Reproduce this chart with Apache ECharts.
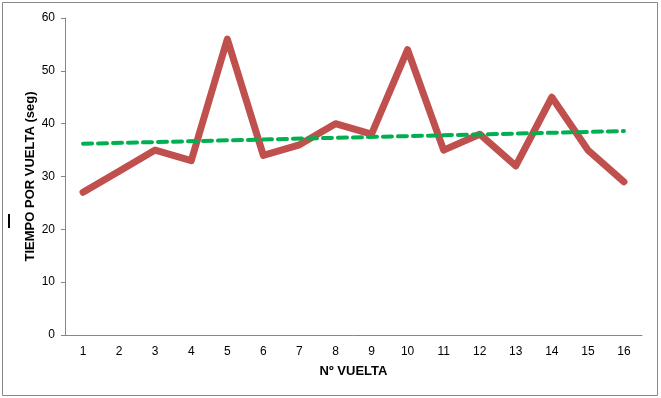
<!DOCTYPE html>
<html>
<head>
<meta charset="utf-8">
<script src="https://cdn.jsdelivr.net/npm/echarts@6/dist/echarts.min.js"></script>
<style>
  html, body { margin: 0; padding: 0; background: #fff; }
  #chart { width: 661px; height: 398px; }
</style>
</head>
<body>
<div id="chart"></div>
<script>
// vueltas
var laps = ['1','2','3','4','5','6','7','8','9','10','11','12','13','14','15','16'];
// tiempo por vuelta (seg)
var lapTimes = [27, 31, 35, 33, 56, 34, 36, 40, 38, 54, 35, 38, 32, 45, 35, 29];
// linea de tendencia (inicio y fin)
var trendStart = 36.2;
var trendEnd = 38.6;
var yTicks = { min: 0, max: 60, step: 10 };

var myChart = echarts.init(document.getElementById('chart'));
var font = '"Liberation Sans", Arial, sans-serif';

var option = {
    animation: false,
    backgroundColor: '#fff',
    textStyle: { fontFamily: font },
    graphic: [
        {
            type: 'rect',
            shape: { x: 2.5, y: 2.5, width: 655, height: 393 },
            style: { fill: 'none', stroke: '#888', lineWidth: 1 }
        },
        {
            type: 'rect',
            shape: { x: 8, y: 214, width: 2, height: 14 },
            style: { fill: '#000' }
        }
    ],
    grid: {
        left: 65,
        right: 19,
        top: 18,
        bottom: 63,
        containLabel: false
    },
    xAxis: {
        type: 'category',
        boundaryGap: true,
        data: laps,
        name: 'Nº VUELTA',
        nameLocation: 'middle',
        nameGap: 30,
        nameTextStyle: { fontFamily: font, fontSize: 13, fontWeight: 'bold', color: '#000' },
        axisLine: { lineStyle: { color: '#868686', width: 1 } },
        axisTick: { show: false },
        axisLabel: { color: '#000', fontSize: 12, margin: 11, fontFamily: font },
        splitLine: { show: false }
    },
    yAxis: {
        type: 'value',
        min: yTicks.min,
        max: yTicks.max,
        interval: yTicks.step,
        name: 'TIEMPO POR VUELTA (seg)',
        nameLocation: 'middle',
        nameGap: 28,
        nameMoveOverlap: false,
        nameTextStyle: { fontFamily: font, fontSize: 13, fontWeight: 'bold', color: '#000' },
        axisLine: { show: true, lineStyle: { color: '#868686', width: 1 } },
        axisTick: { show: true, length: 4, inside: false, lineStyle: { color: '#868686' } },
        axisLabel: { color: '#000', fontSize: 12, margin: 10, fontFamily: font },
        splitLine: { show: false }
    },
    series: [
        {
            name: 'Tiempo',
            type: 'line',
            data: lapTimes,
            symbol: 'none',
            lineStyle: { color: '#C0504D', width: 7, cap: 'round', join: 'round' },
            z: 2
        },
        {
            name: 'Tendencia',
            type: 'line',
            data: [[laps[0], trendStart], [laps[laps.length - 1], trendEnd]],
            symbol: 'none',
            lineStyle: { color: '#00B050', width: 4, type: [9, 6], cap: 'round' },
            z: 3
        }
    ]
};
myChart.setOption(option);
</script>
</body>
</html>
